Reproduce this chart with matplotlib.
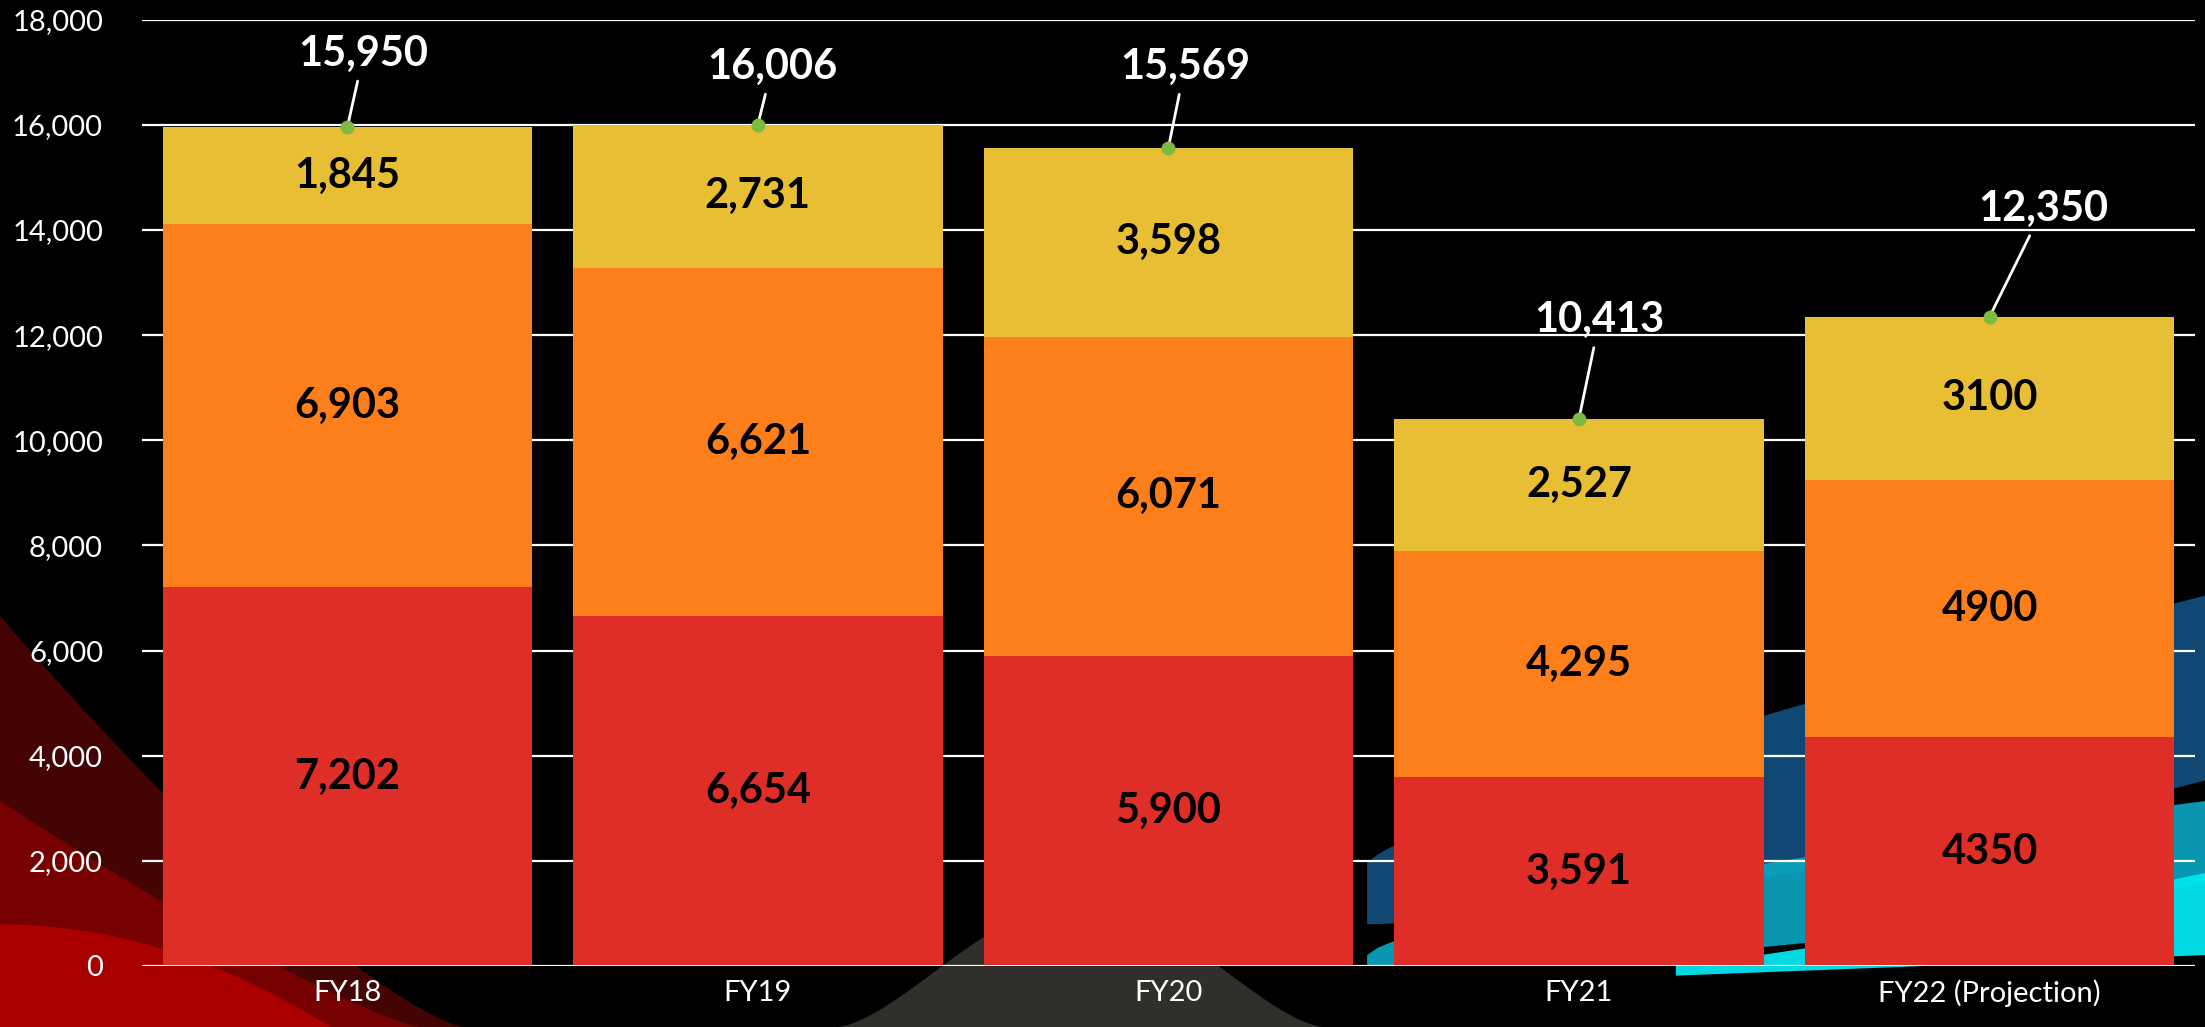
import matplotlib
matplotlib.use("Agg")
import matplotlib.pyplot as plt
from matplotlib.patches import Polygon
import numpy as np

categories = ["FY18", "FY19", "FY20", "FY21", "FY22 (Projection)"]
bottom_vals = [7202, 6654, 5900, 3591, 4350]
middle_vals = [6903, 6621, 6071, 4295, 4900]
top_vals = [1845, 2731, 3598, 2527, 3100]
bottom_labels = ["7,202", "6,654", "5,900", "3,591", "4350"]
middle_labels = ["6,903", "6,621", "6,071", "4,295", "4900"]
top_labels = ["1,845", "2,731", "3,598", "2,527", "3100"]
totals = [15950, 16006, 15569, 10413, 12350]
total_label_y = [17350, 17100, 17100, 12280, 14400]
total_label_dx = [0.04, 0.035, 0.04, 0.05, 0.13]

plt.rcParams['font.family'] = ['Lato', 'DejaVu Sans']

fig = plt.figure(figsize=(22.05, 10.27), dpi=100)
fig.patch.set_facecolor('black')


def band(xs, y_low, y_high, color, alpha):
    """Decorative band in figure coordinates between two curves."""
    xs = np.asarray(xs)
    pts = np.vstack([np.column_stack([xs, y_high]), np.column_stack([xs[::-1], y_low[::-1]])])
    fig.patches.append(Polygon(pts, closed=True, transform=fig.transFigure, facecolor=color,
                               edgecolor='none', alpha=alpha, zorder=-5))


t = np.linspace(0, 1, 80)
# red swoosh bottom-left
band(0.21 * t, np.zeros_like(t), 0.40 * (1 - t) ** 1.3, '#4a0505', 0.95)
band(0.19 * t, np.zeros_like(t), 0.22 * (1 - t) ** 1.2, '#7a0000', 0.95)
band(0.15 * t, np.zeros_like(t), 0.10 * (1 - t ** 2), '#b00000', 0.9)
# grey/beige swoosh bottom middle
band(0.38 + 0.22 * t, np.zeros_like(t), 0.12 * np.sin(np.pi * t) ** 1.5, '#3e3b36', 0.8)
# blue swoosh right
band(0.62 + 0.38 * t, 0.10 + 0.14 * t ** 1.5, 0.16 + 0.26 * t ** 0.8, '#17609a', 0.75)
# cyan swooshes bottom right
band(0.62 + 0.38 * t, 0.06 + 0.08 * t ** 2, 0.07 + 0.15 * t ** 0.7, '#0aa8c4', 0.9)
band(0.76 + 0.24 * t, 0.05 + 0.02 * t, 0.06 + 0.09 * t ** 1.2, '#00e6f0', 0.95)

ax = fig.add_axes([0.0644, 0.0594, 0.931, 0.9214])
ax.set_zorder(1)
ax.set_facecolor('none')
ax.patch.set_alpha(0)

x = np.arange(len(categories))
w = 0.9
red = '#DE2E27'
orange = '#FD7F1C'
yellow = '#E8BE34'

ax.bar(x, bottom_vals, w, color=red, zorder=3)
ax.bar(x, middle_vals, w, bottom=bottom_vals, color=orange, zorder=3)
ax.bar(x, top_vals, w, bottom=np.array(bottom_vals) + np.array(middle_vals), color=yellow, zorder=3)

for i in range(len(categories)):
    y0 = bottom_vals[i]
    y1 = y0 + middle_vals[i]
    ax.text(x[i], y0 / 2, bottom_labels[i], ha='center', va='center', fontsize=30,
            fontweight='bold', color='black', zorder=5)
    ax.text(x[i], y0 + middle_vals[i] / 2, middle_labels[i], ha='center', va='center', fontsize=30,
            fontweight='bold', color='black', zorder=5)
    ax.text(x[i], y1 + top_vals[i] / 2, top_labels[i], ha='center', va='center', fontsize=30,
            fontweight='bold', color='black', zorder=5)
    ax.annotate(f"{totals[i]:,}", xy=(x[i], totals[i]),
                xytext=(x[i] + total_label_dx[i], total_label_y[i]),
                ha='center', va='center', fontsize=30, fontweight='bold', color='white',
                arrowprops=dict(arrowstyle='-', color='white', lw=2, shrinkA=4, shrinkB=0),
                zorder=6)

ax.plot(x, totals, linestyle='none', marker='o', markersize=9, color='#7DBA3E', zorder=7)

ax.set_xlim(-0.5, 4.5)
ax.set_ylim(0, 18000)
ax.set_yticks(np.arange(0, 18001, 2000))
ax.set_yticklabels([f"{v:,}" for v in range(0, 18001, 2000)])
ax.set_xticks(x)
ax.set_xticklabels(categories)
ax.tick_params(axis='both', colors='white', labelsize=21, length=0)
ax.tick_params(axis='y', pad=28)
ax.tick_params(axis='x', pad=10)
ax.yaxis.grid(True, color='white', linewidth=1.6, zorder=1)
ax.set_axisbelow(True)
for s in ax.spines.values():
    s.set_visible(False)
ax.axhline(0, color='white', linewidth=2, zorder=4)

fig.savefig('out.png', dpi=100, facecolor=fig.get_facecolor())
